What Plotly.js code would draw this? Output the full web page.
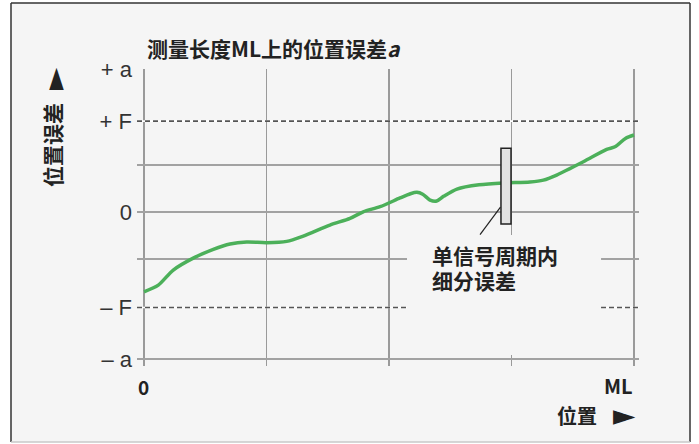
<!DOCTYPE html>
<html>
<head>
<meta charset="utf-8">
<script src="https://cdn.plot.ly/plotly-3.0.1.min.js"></script>
<style>
html,body{margin:0;padding:0;background:#fff;}
#chart{width:699px;height:444px;}
</style>
</head>
<body>
<div id="chart"></div>
<script>
// Position along measuring length (0..4 = 0..ML, gridlines at each unit)
const posX = [0, 0.117, 0.239, 0.402, 0.566, 0.702, 0.838, 1.002, 1.165, 1.300, 1.518, 1.682, 1.790, 1.927, 2.090, 2.175, 2.228, 2.275, 2.335, 2.389, 2.449, 2.555, 2.735, 2.933, 3.151, 3.260, 3.369, 3.586, 3.777, 3.845, 3.930, 4.0];
// Position error (units of F)
const errY = [-0.848, -0.777, -0.617, -0.49, -0.397, -0.34, -0.319, -0.326, -0.312, -0.255, -0.138, -0.067, 0.003, 0.057, 0.15, 0.195, 0.21, 0.19, 0.128, 0.117, 0.17, 0.245, 0.29, 0.31, 0.32, 0.34, 0.394, 0.535, 0.667, 0.695, 0.784, 0.82];

const F = 0.968, Fneg = -1.016, A = 1.521, Aneg = -1.564;
const yTickVals = [Aneg, Fneg, -0.5, 0, 0.5, F, A];
const yTickText = ['– a', '– F', '', '0', '', '+ F', '+ a'];
const xTickVals = [0, 1, 2, 3, 4];
const xLabels = ['0', 'ML'];
const titleText = '<b>测量长度ML上的位置误差<i>a</i></b>';
const yTitle = '<b>位置误差</b>';
const xTitle = '<b>位置</b>';
const noteLines = ['<b>单信号周期内</b>', '<b>细分误差</b>'];
// subdivision-error bar around the curve
const barX = [2.914, 2.996], barY = [-0.128, 0.68];

const cjk = 'Noto Sans CJK SC, Noto Sans, sans-serif';
const dark = '#222';

const trace = {
  x: posX, y: errY, type: 'scatter', mode: 'lines',
  line: {color: '#4cb05a', width: 3.5, shape: 'spline', smoothing: 0.8},
  hoverinfo: 'skip'
};

// paper helpers (plot area 137..639 x, 69..366 y)
const px = v => (v - 137) / 502;
const py = v => (366 - v) / 297;

const layout = {
  width: 699, height: 444,
  margin: {l: 137, r: 60, t: 69, b: 78},
  paper_bgcolor: '#ffffff',
  plot_bgcolor: 'rgba(0,0,0,0)',
  showlegend: false,
  xaxis: {
    range: [-0.0571, 4.0408], tickvals: xTickVals, showticklabels: false,
    showgrid: true, gridcolor: '#9a9a9a', gridwidth: 1.2,
    zeroline: false, showline: false, ticks: ''
  },
  yaxis: {
    range: [-1.638, 1.5225], tickvals: yTickVals, ticktext: yTickText,
    showgrid: true, gridcolor: '#a2a2a2', gridwidth: 1.2,
    zeroline: false, showline: false, ticks: '',
    tickfont: {family: 'Liberation Sans, Arial, sans-serif', size: 22, color: '#333'},
    ticklabelstandoff: 4
  },
  shapes: [
    // outer panel
    {type: 'rect', xref: 'paper', yref: 'paper', x0: px(11), x1: px(690), y0: py(442), y1: py(3),
     fillcolor: '#f5f5f5', line: {width: 0}, layer: 'below'},
    {type: 'line', xref: 'paper', yref: 'paper', x0: px(11), x1: px(11), y0: py(442), y1: py(3), line: {color: '#333', width: 1.5}},
    {type: 'line', xref: 'paper', yref: 'paper', x0: px(11), x1: px(690), y0: py(3), y1: py(3), line: {color: '#333', width: 1.5}},
    {type: 'line', xref: 'paper', yref: 'paper', x0: px(690), x1: px(690), y0: py(442), y1: py(3), line: {color: '#333', width: 1.5}},
    {type: 'line', xref: 'paper', yref: 'paper', x0: px(11), x1: px(690), y0: py(442), y1: py(442), line: {color: '#c8c8c8', width: 1.5}},
    // +F / -F dashed lines (white base + dark dashes)
    {type: 'line', xref: 'paper', yref: 'y', x0: 0, x1: 1, y0: F, y1: F, line: {color: '#ffffff', width: 1.6}},
    {type: 'line', xref: 'paper', yref: 'y', x0: 0, x1: 1, y0: F, y1: F, line: {color: '#555', width: 1.6, dash: '5px,3px'}},
    {type: 'line', xref: 'paper', yref: 'y', x0: 0, x1: 1, y0: Fneg, y1: Fneg, line: {color: '#ffffff', width: 1.6}},
    {type: 'line', xref: 'paper', yref: 'y', x0: 0, x1: 1, y0: Fneg, y1: Fneg, line: {color: '#555', width: 1.6, dash: '5px,3px'}},
    // background behind the note
    {type: 'rect', xref: 'x', yref: 'y', x0: 2.147, x1: 3.731, y0: -1.52, y1: -0.245,
     fillcolor: '#f5f5f5', line: {width: 0}, layer: 'above'},
    // subdivision error bar
    {type: 'rect', xref: 'x', yref: 'y', x0: barX[0], x1: barX[1], y0: barY[0], y1: barY[1],
     fillcolor: '#e2e2e2', line: {color: '#222', width: 1.5}, layer: 'above'},
    // leader line
    {type: 'line', xref: 'x', yref: 'y', x0: 2.910, y0: 0.053, x1: 2.743, y1: -0.239,
     line: {color: '#222', width: 1.2}, layer: 'above'}
  ],
  annotations: [
    {text: titleText, xref: 'paper', yref: 'paper', x: px(145), y: py(48), xanchor: 'left', yanchor: 'middle',
     showarrow: false, font: {family: cjk, size: 21, color: dark}},
    {text: yTitle, xref: 'paper', yref: 'paper', x: px(52), y: py(145), xanchor: 'center', yanchor: 'middle',
     textangle: -90, showarrow: false, font: {family: cjk, size: 21, color: dark}},
    {text: '►', xref: 'paper', yref: 'paper', x: px(53.5), y: py(78.5), xanchor: 'center', yanchor: 'middle',
     textangle: -90, showarrow: false, font: {family: 'DejaVu Sans', size: 29, color: dark}},
    {text: '<b>' + xLabels[0] + '</b>', xref: 'x', yref: 'paper', x: xTickVals[0], y: py(386.5), xanchor: 'center', yanchor: 'middle',
     showarrow: false, font: {family: cjk, size: 19, color: dark}},
    {text: '<b>' + xLabels[1] + '</b>', xref: 'paper', yref: 'paper', x: px(635), y: py(385.5), xanchor: 'right', yanchor: 'middle',
     showarrow: false, font: {family: cjk, size: 20, color: dark}},
    {text: xTitle, xref: 'paper', yref: 'paper', x: px(577), y: py(415), xanchor: 'center', yanchor: 'middle',
     showarrow: false, font: {family: cjk, size: 20, color: dark}},
    {text: '►', xref: 'paper', yref: 'paper', x: px(624), y: py(415), xanchor: 'center', yanchor: 'middle',
     showarrow: false, font: {family: 'DejaVu Sans', size: 29, color: dark}},
    {text: noteLines[0], xref: 'x', yref: 'y', x: 2.335, y: (212 - 255) / 94, xanchor: 'left', yanchor: 'middle', align: 'left',
     showarrow: false, font: {family: cjk, size: 21, color: dark}},
    {text: noteLines[1], xref: 'x', yref: 'y', x: 2.335, y: (212 - 280) / 94, xanchor: 'left', yanchor: 'middle', align: 'left',
     showarrow: false, font: {family: cjk, size: 21, color: dark}}
  ]
};

Plotly.newPlot('chart', [trace], layout, {displayModeBar: false, staticPlot: true});
</script>
</body>
</html>
